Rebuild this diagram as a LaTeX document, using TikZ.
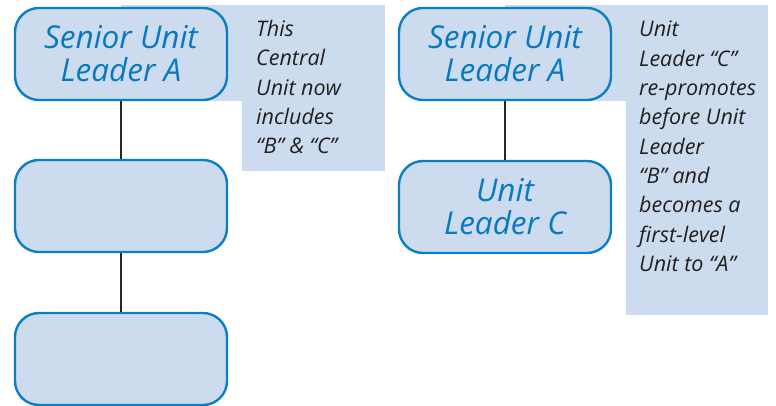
\documentclass[tikz,border=0pt]{standalone}
\usepackage{fontspec}
\setmainfont{Open Sans}
\definecolor{unitblue}{HTML}{0A7FC4}
\definecolor{unittext}{HTML}{0878C0}
\definecolor{panelfill}{HTML}{CCDCEE}
\definecolor{notetext}{HTML}{231F20}

\begin{document}
\begin{tikzpicture}
	[x=1pt, y=-1pt,
	unit/.style={draw=unitblue, fill=panelfill, line width=2.4pt, rounded corners=24pt,
		minimum width=212pt, minimum height=92pt, align=center, inner sep=0pt,
		text=unittext, font=\fontsize{31.5}{33}\selectfont\itshape},
	note/.style={anchor=north west, align=left, inner sep=0pt, text=notetext,
		font=\fontsize{21.5}{29.3}\selectfont\itshape},
	link/.style={line width=1.6pt, black!85}]
	\useasboundingbox (0,0) rectangle (776,406);
	% light panels behind the notes
	\fill[panelfill] (121,5) rectangle (385,101);
	\fill[panelfill] (242,5) rectangle (385,171);
	\fill[panelfill] (505,5) rectangle (768,101);
	\fill[panelfill] (626,5) rectangle (768,315);
	% left chart
	\node[unit] (a1) at (121,54) {Senior Unit\\Leader A};
	\node[unit] (b1) at (121,206) {};
	\node[unit] (c1) at (121,359) {};
	\draw[link] (a1) -- (b1);
	\draw[link] (b1) -- (c1);
	\node[note] (n1) at (256,20) {This\\Central\\Unit now\\includes\\“B” \& “C”};
	% right chart
	\node[unit] (a2) at (505,54) {Senior Unit\\Leader A};
	\node[unit] (c2) at (505,207) {Unit\\Leader C};
	\draw[link] (a2) -- (c2);
	\node[note] (n2) at (639,21) {Unit\\Leader “C”\\re-promotes\\before Unit\\Leader\\“B” and\\becomes a\\first-level\\Unit to “A”};
\end{tikzpicture}
\end{document}
